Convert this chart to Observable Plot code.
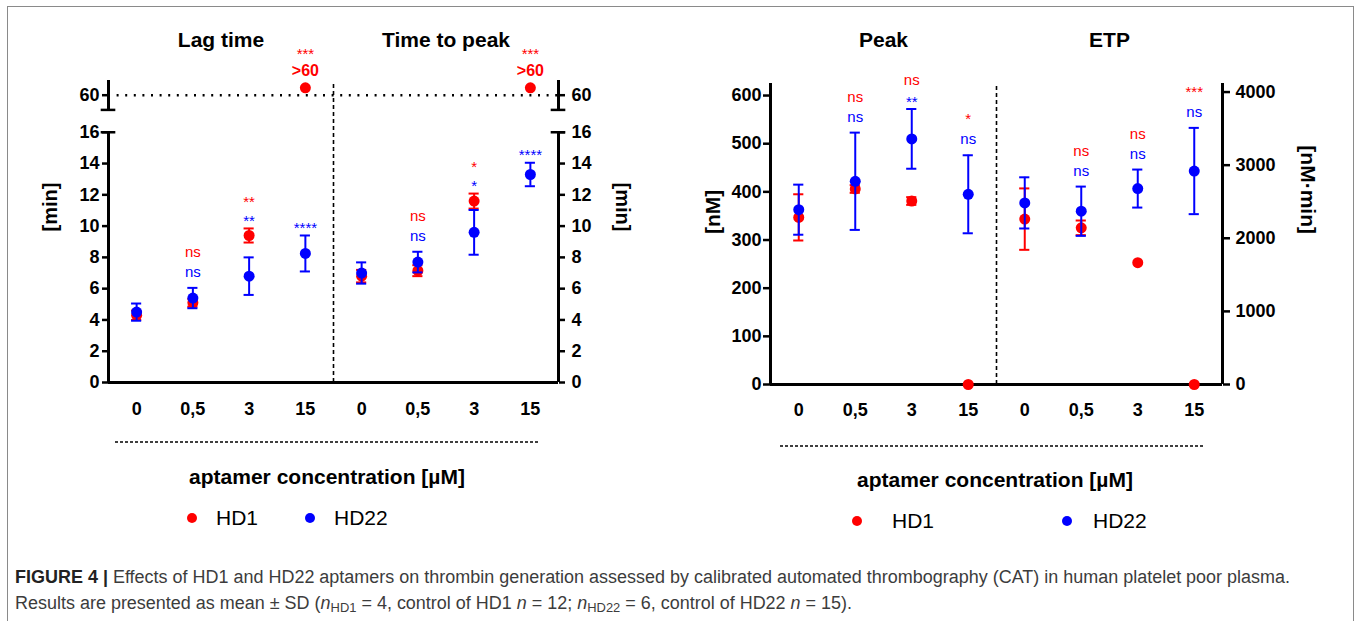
<!DOCTYPE html>
<html>
<head>
<meta charset="utf-8">
<script src="https://cdn.jsdelivr.net/npm/d3@7"></script>
<script src="https://cdn.jsdelivr.net/npm/@observablehq/plot@0.6"></script>
<style>
html, body { margin: 0; padding: 0; width: 1358px; height: 621px; overflow: hidden; background: #fff; }
body { position: relative; font-family: 'Liberation Sans', Arial, Helvetica, sans-serif; color: #000; }
.abs { position: absolute; }
#frame { position: absolute; left: 7px; top: 6px; width: 1347px; height: 700px; border: 1.5px solid #8a8a8a; box-sizing: border-box; }
.xlab { position: absolute; font-weight: bold; font-size: 21px; white-space: nowrap; transform: translate(-50%, -50%); }
.leg { position: absolute; font-size: 21px; white-space: nowrap; transform: translateY(-50%); }
.legdot { position: absolute; width: 10px; height: 10px; border-radius: 50%; transform: translate(-50%, -50%); }
#cap { position: absolute; left: 15px; top: 564px; color: #3c3c3c; font-family: 'Liberation Sans Narrow', 'Liberation Sans', Arial, sans-serif; white-space: nowrap; line-height: 26px; font-size: 18px; transform-origin: 0 0; }
#cap b { color: #222; }
#cap sub { font-size: 0.72em; vertical-align: -0.25em; line-height: 0; }
</style>
</head>
<body>
<div id="frame"></div>
<div id="left" class="abs" style="left:0px;top:0px"></div>
<div id="right" class="abs" style="left:680px;top:0px"></div>
<div id="below"></div>
<div id="cap">
  <div id="cap1"><b>FIGURE 4</b> <b>|</b> Effects of HD1 and HD22 aptamers on thrombin generation assessed by calibrated automated thrombography (CAT) in human platelet poor plasma.</div>
  <div id="cap2">Results are presented as mean ± SD (<i>n</i><sub>HD1</sub> = 4, control of HD1 <i>n</i> = 12; <i>n</i><sub>HD22</sub> = 6, control of HD22 <i>n</i> = 15).</div>
</div>
<script>
// ---------------- data ----------------
const conc = ["0", "0,5", "3", "15"];
const titlesLeft = ["Lag time", "Time to peak"];
const titlesRight = ["Peak", "ETP"];
const seriesNames = ["HD1", "HD22"];
const seriesColors = ["#ff0000", "#0000ff"];
const xAxisTitle = "aptamer concentration [µM]";

// Lag time [min]  (61 = ">60", no thrombin generated within 60 min)
const lagHD1 = [4.3, 5.1, 9.4, 61];
const lagHD1sd = [0.3, 0.25, 0.45, 0];
const lagHD22 = [4.5, 5.4, 6.8, 8.25];
const lagHD22sd = [0.55, 0.65, 1.2, 1.15];
const lagSigHD1 = ["", "ns", "**", "***"];
const lagSigHD22 = ["", "ns", "**", "****"];

// Time to peak [min]
const ttpHD1 = [6.8, 7.15, 11.6, 61];
const ttpHD1sd = [0.4, 0.35, 0.48, 0];
const ttpHD22 = [7.0, 7.7, 9.6, 13.3];
const ttpHD22sd = [0.68, 0.66, 1.43, 0.75];
const ttpSigHD1 = ["", "ns", "*", "***"];
const ttpSigHD22 = ["", "ns", "*", "****"];

// Peak [nM]
const peakHD1 = [347, 406, 381, 0];
const peakHD1sd = [48, 8, 8, 0];
const peakHD22 = [363, 422, 510, 395];
const peakHD22sd = [52, 101, 62, 81];
const peakSigHD1 = ["", "ns", "ns", "*"];
const peakSigHD22 = ["", "ns", "**", "ns"];

// ETP [nM·min]
const etpHD1 = [2262, 2143, 1666, 0];
const etpHD1sd = [420, 100, 0, 0];
const etpHD22 = [2484, 2370, 2680, 2920];
const etpHD22sd = [350, 337, 260, 590];
const etpSigHD1 = ["", "ns", "ns", "***"];
const etpSigHD22 = ["", "ns", "ns", "ns"];

// axis ticks
const minTicks = [0, 2, 4, 6, 8, 10, 12, 14, 16, 60];
const nMTicks = [0, 100, 200, 300, 400, 500, 600];
const etpTicks = [0, 1000, 2000, 3000, 4000];

// scale settings
const lowMax = 16, highMin = 58, highMax = 62, breakGap = 1.43, highScale = 0.47, overLimit = 60;
const peakMax = 625, etpMax = 4117;

// ---------------- helpers ----------------
const FONT = "'Liberation Sans', Arial, Helvetica, sans-serif";
const brk = v => v <= lowMax ? v : lowMax + breakGap + (v - highMin) * highScale;
const etpK = peakMax / etpMax;
const toPeak = v => v * etpK;
const ident = v => v;
const nCat = conc.length;
const xDomain = [-0.5, nCat * 2 - 0.5];
const xTicks = d3.range(nCat * 2);
const divider = nCat - 0.5;
const groupCenter = i => i * nCat + (nCat - 1) / 2;
const capHalf = 0.09, axisCapHalf = 0.13;

// label stacking (pixel offsets of the glyph centres above the error bar)
const isStar = t => /^\*+$/.test(t);
const kind = t => isStar(t) ? "star" : "ns";
const firstGap = {ns: 15, star: 11};
const stackGap = {"ns/ns": 20, "star/star": 19.5, "ns/star": 24.5, "star/ns": 16.7};
const glyphMid = {ns: 4, star: 8.7};

function buildRows(groups, limit) {
  const pts = [], labels = [];
  groups.forEach((g, gi) => {
    for (let j = 0; j < nCat; j++) {
      const x = gi * nCat + j;
      const make = (m, sd, sig, s) => ({x, series: s, sd, sig, over: m > limit, y: g.f(m), lo: g.f(m - sd), hi: g.f(m + sd)});
      const r = make(g.hd1[j], g.hd1sd[j], g.sig1[j], "HD1");
      const b = make(g.hd22[j], g.hd22sd[j], g.sig22[j], "HD22");
      pts.push(r, b);
      const anchor = Math.max(b.hi, r.over ? -Infinity : r.hi);
      const push = (text, series, y, dy, bold) => labels.push({x, text, series, y, dy, bold});
      let c = null, prev = null;
      const stack = (t, series) => {
        const k = kind(t);
        c = prev === null ? firstGap[k] : c + stackGap[prev + "/" + k];
        prev = k;
        push(t, series, anchor, -c + glyphMid[k], false);
      };
      if (b.sig) stack(b.sig, "HD22");
      if (r.over) {
        push(">60", "HD1", r.y, -12, true);
        if (r.sig) push(r.sig, "HD1", r.y, -37.7 + glyphMid.star, false);
      } else if (r.sig) stack(r.sig, "HD1");
    }
  });
  return {pts, labels};
}

function dataMarks(pts, labels) {
  const marks = [];
  for (const s of seriesNames) {
    const P = pts.filter(d => d.series === s);
    const E = P.filter(d => d.sd > 0);
    marks.push(
      Plot.ruleX(E, {x: "x", y1: "lo", y2: "hi", stroke: "series", strokeWidth: 2}),
      Plot.ruleY(E, {y: "hi", x1: d => d.x - capHalf, x2: d => d.x + capHalf, stroke: "series", strokeWidth: 2}),
      Plot.ruleY(E, {y: "lo", x1: d => d.x - capHalf, x2: d => d.x + capHalf, stroke: "series", strokeWidth: 2}),
      Plot.dot(P, {x: "x", y: "y", r: 5.5, fill: "series"})
    );
  }
  for (const [, L] of d3.groups(labels, d => d.dy.toFixed(2) + "|" + d.bold)) {
    marks.push(Plot.text(L, {x: "x", y: "y", text: "text", fill: "series", dy: L[0].dy, lineAnchor: "bottom",
      fontSize: L[0].bold ? 16 : 15, fontWeight: L[0].bold ? "bold" : "normal"}));
  }
  return marks;
}

const plotStyle = {fontFamily: FONT, fontSize: "18px", fontWeight: "bold", color: "#000", background: "none", overflow: "visible"};
const colorScale = {domain: seriesNames, range: seriesColors};

// ---------------- left panel ----------------
const L = buildRows([
  {f: brk, hd1: lagHD1, hd1sd: lagHD1sd, sig1: lagSigHD1, hd22: lagHD22, hd22sd: lagHD22sd, sig22: lagSigHD22},
  {f: brk, hd1: ttpHD1, hd1sd: ttpHD1sd, sig1: ttpSigHD1, hd22: ttpHD22, hd22sd: ttpHD22sd, sig22: ttpSigHD22}
], overLimit);
const minLabel = new Map(minTicks.map(t => [brk(t), String(t)]));
const yTopL = brk(highMax);
const capsL = xDomain.flatMap(x => [{x, y: lowMax}, {x, y: brk(highMin)}]);

const leftPlot = Plot.plot({
  width: 680, height: 430, marginLeft: 108, marginRight: 122, marginTop: 80, marginBottom: 48,
  x: {domain: xDomain, axis: null},
  y: {domain: [0, yTopL], axis: null},
  color: colorScale,
  style: plotStyle,
  marks: [
    Plot.ruleY([brk(overLimit)], {strokeDasharray: "2,6.6", strokeWidth: 2.4}),
    Plot.ruleX([divider], {y1: 0, y2: brk(61.7), strokeDasharray: "4,3", strokeWidth: 1.6}),
    Plot.ruleY([0], {strokeWidth: 3}),
    Plot.ruleX(xDomain, {y1: 0, y2: lowMax, strokeWidth: 3}),
    Plot.ruleX(xDomain, {y1: brk(highMin), y2: brk(highMax), strokeWidth: 3}),
    Plot.ruleY(capsL, {y: "y", x1: d => d.x - axisCapHalf, x2: d => d.x + axisCapHalf, strokeWidth: 2.5}),
    Plot.axisY({anchor: "left", ticks: minTicks.map(brk), tickFormat: v => minLabel.get(v), tickSize: 6, tickPadding: 3, strokeWidth: 2.5, label: null}),
    Plot.axisY({anchor: "right", ticks: minTicks.map(brk), tickFormat: v => minLabel.get(v), tickSize: 6, tickPadding: 7, strokeWidth: 2.5, label: null}),
    Plot.axisX({ticks: xTicks, tickFormat: i => conc[i % nCat], tickSize: 0, tickPadding: 20, label: null}),
    Plot.text(titlesLeft, {x: (d, i) => groupCenter(i), text: d => d, frameAnchor: "top", dy: -48, fontSize: 21}),
    Plot.text(["[min]"], {text: d => d, frameAnchor: "left", dx: -58, rotate: -90, fontSize: 20}),
    Plot.text(["[min]"], {text: d => d, frameAnchor: "right", dx: 64, rotate: 90, fontSize: 20}),
    ...dataMarks(L.pts, L.labels)
  ]
});
document.getElementById("left").appendChild(leftPlot);

// ---------------- right panel ----------------
const R = buildRows([
  {f: ident, hd1: peakHD1, hd1sd: peakHD1sd, sig1: peakSigHD1, hd22: peakHD22, hd22sd: peakHD22sd, sig22: peakSigHD22},
  {f: toPeak, hd1: etpHD1, hd1sd: etpHD1sd, sig1: etpSigHD1, hd22: etpHD22, hd22sd: etpHD22sd, sig22: etpSigHD22}
], Infinity);
const etpLabel = new Map(etpTicks.map(t => [toPeak(t), String(t)]));

const rightPlot = Plot.plot({
  width: 678, height: 430, marginLeft: 90, marginRight: 136, marginTop: 83, marginBottom: 46,
  x: {domain: xDomain, axis: null},
  y: {domain: [0, peakMax], axis: null},
  color: colorScale,
  style: plotStyle,
  marks: [
    Plot.ruleX([divider], {y1: 0, y2: peakMax, strokeDasharray: "4,3", strokeWidth: 1.6}),
    Plot.ruleY([0], {strokeWidth: 3}),
    Plot.ruleX(xDomain, {y1: 0, y2: peakMax, strokeWidth: 3}),
    Plot.axisY({anchor: "left", ticks: nMTicks, tickSize: 7, tickPadding: 2, strokeWidth: 2.5, label: null}),
    Plot.axisY({anchor: "right", ticks: etpTicks.map(toPeak), tickFormat: v => etpLabel.get(v), tickSize: 7, tickPadding: 6, strokeWidth: 2.5, label: null}),
    Plot.axisX({ticks: xTicks, tickFormat: i => conc[i % nCat], tickSize: 0, tickPadding: 19, label: null}),
    Plot.text(titlesRight, {x: (d, i) => groupCenter(i), text: d => d, frameAnchor: "top", dy: -51, fontSize: 21}),
    Plot.text(["[nM]"], {text: d => d, frameAnchor: "left", dx: -57, rotate: -90, fontSize: 21}),
    Plot.text(["[nM·min]"], {text: d => d, frameAnchor: "right", dx: 85, rotate: 90, fontSize: 21}),
    ...dataMarks(R.pts, R.labels)
  ]
});
document.getElementById("right").appendChild(rightPlot);

// ---------------- below: dashed line, x title, legend ----------------
const below = document.getElementById("below");
const blocks = [
  {x1: 115, x2: 540, ly: 442, tx: 327, ty: 477, legY: 518, dots: [192, 310], texts: [216, 334]},
  {x1: 780, x2: 1205, ly: 446, tx: 995, ty: 480, legY: 521, dots: [857, 1067], texts: [892, 1093]}
];
for (const b of blocks) {
  const svg = d3.select(below).append("svg").attr("class", "abs").style("left", "0px").style("top", "0px")
    .attr("width", 1358).attr("height", 560).style("pointer-events", "none");
  svg.append("line").attr("x1", b.x1).attr("x2", b.x2).attr("y1", b.ly).attr("y2", b.ly)
    .attr("stroke", "#000").attr("stroke-width", 1.6).attr("stroke-dasharray", "3,2");
  const t = document.createElement("div");
  t.className = "xlab"; t.style.left = b.tx + "px"; t.style.top = b.ty + "px"; t.textContent = xAxisTitle;
  below.appendChild(t);
  seriesNames.forEach((s, i) => {
    const d = document.createElement("div");
    d.className = "legdot"; d.style.left = b.dots[i] + "px"; d.style.top = b.legY + "px"; d.style.background = seriesColors[i];
    below.appendChild(d);
    const l = document.createElement("div");
    l.className = "leg"; l.style.left = b.texts[i] + "px"; l.style.top = b.legY + "px"; l.textContent = s;
    below.appendChild(l);
  });
}

// fit caption width (condensed look)
const cap1 = document.getElementById("cap1");
const w = cap1.getBoundingClientRect().width;
const cap = document.getElementById("cap");
cap.style.transform = "scaleX(" + (1275 / w).toFixed(4) + ")";
</script>
</body>
</html>
